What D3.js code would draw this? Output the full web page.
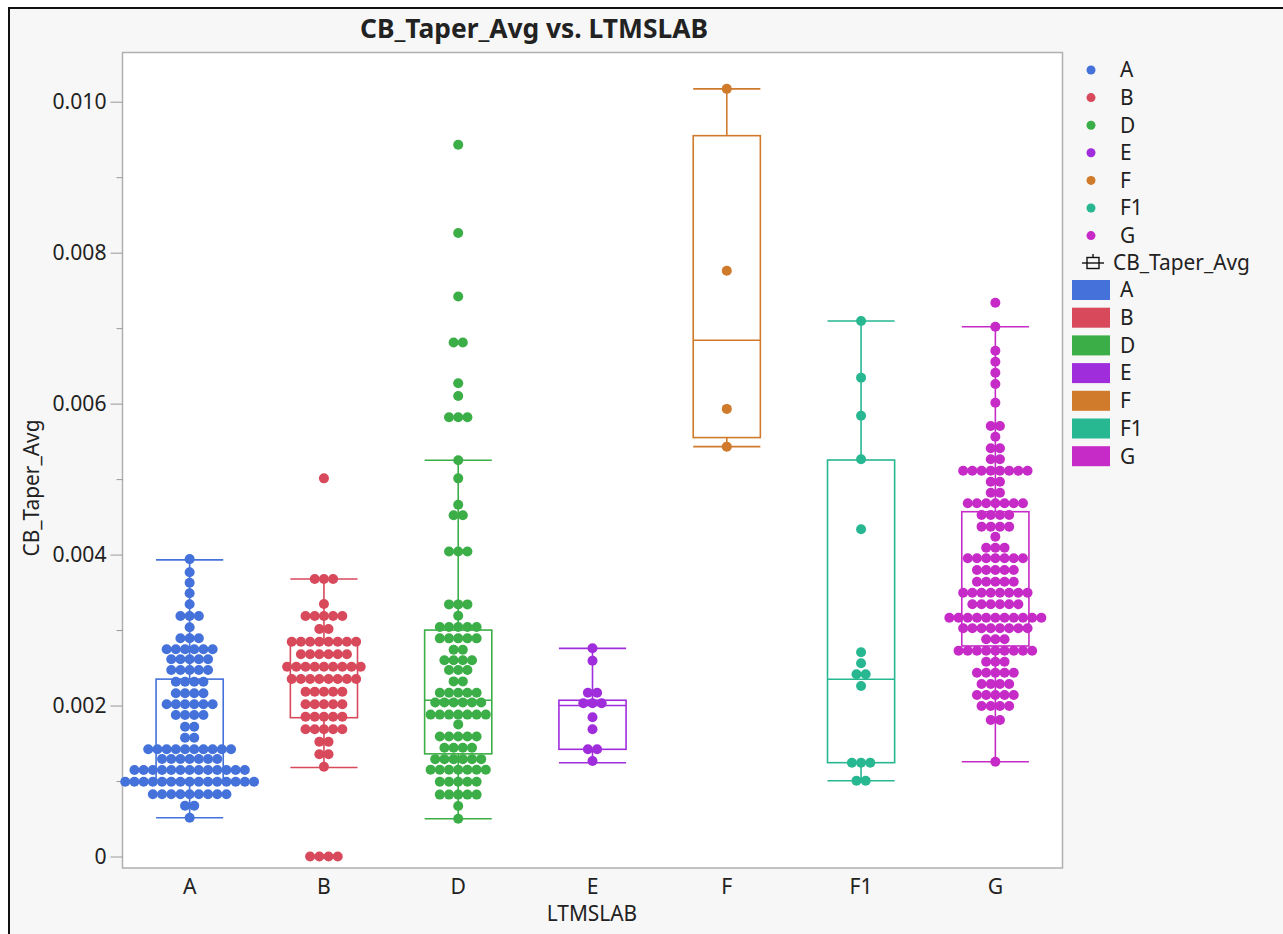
<!DOCTYPE html>
<html><head><meta charset="utf-8">
<script src="https://cdn.jsdelivr.net/npm/d3@7"></script>
<style>
body{margin:0;background:#ffffff;}
svg{display:block;}
text{font-family:"Noto Sans","Open Sans",sans-serif;fill:#222;}
</style>
</head><body>
<svg id="chart" width="1283" height="934"></svg>
<script>
// ---------------- data ----------------
const categories = ["A","B","D","E","F","F1","G"];
const colors = ["#4472DA","#D7495B","#3CAE47","#A02DDC","#D07A2C","#27B791","#C62BC8"];
const title = "CB_Taper_Avg vs. LTMSLAB";
const yTitle = "CB_Taper_Avg";
const xTitle = "LTMSLAB";
const yMajorTicks = [0,0.002,0.004,0.006,0.008,0.010];
const yMinorTicks = [0.001,0.003,0.005,0.007,0.009];

// each row: [value, number of points with that value]
const rowsA = [[0.00394,1],[0.003765,1],[0.003627,1],[0.003487,1],[0.003341,1],[0.003186,3],[0.003037,1],[0.002891,3],[0.002745,6],[0.002613,5],[0.002471,5],[0.002316,4],[0.002162,4],[0.002016,6],[0.001875,4],[0.00172,2],[0.001574,2],[0.00142,10],[0.001292,7],[0.001146,13],[0.000991,15],[0.000824,9],[0.000673,2],[0.000514,1]];
const rowsB = [[0.00501,1],[0.003677,3],[0.003345,1],[0.003186,5],[0.003014,2],[0.002846,8],[0.002679,6],[0.002515,9],[0.002352,8],[0.002183,5],[0.002016,5],[0.001852,5],[0.001685,5],[0.001521,2],[0.001354,2],[0.00119,1],[0,4]];
const rowsD = [[0.00943,1],[0.00826,1],[0.00742,1],[0.00681,2],[0.00627,1],[0.0061,1],[0.00582,3],[0.00525,1],[0.00501,1],[0.00466,1],[0.00452,2],[0.00404,3],[0.00334,3],[0.00319,1],[0.00304,5],[0.00289,5],[0.00274,2],[0.0026,4],[0.00247,3],[0.00232,2],[0.00217,5],[0.00204,6],[0.00188,7],[0.00175,1],[0.00159,5],[0.00144,4],[0.00129,6],[0.00115,7],[0.00099,5],[0.00082,5],[0.00067,1],[0.0005,1]];
const rowsE = [[0.002758,1],[0.002594,1],[0.00217,2],[0.00203,3],[0.001844,1],[0.001685,1],[0.00142,2],[0.001265,1]];
const rowsF = [[0.01017,1],[0.00776,1],[0.00593,1],[0.00543,1]];
const rowsF1 = [[0.007094,1],[0.006344,1],[0.00584,1],[0.005262,1],[0.004335,1],[0.002705,1],[0.00256,1],[0.002414,2],[0.002259,1],[0.001243,3],[0.001004,2]];
const rowsG = [[0.007337,1],[0.007019,1],[0.006701,1],[0.006555,1],[0.00641,1],[0.00626,1],[0.006012,1],[0.005704,2],[0.005562,1],[0.005408,2],[0.005262,2],[0.005111,8],[0.004966,2],[0.00482,2],[0.00468,7],[0.004524,4],[0.00437,4],[0.004237,1],[0.004091,3],[0.003951,7],[0.003796,5],[0.003641,5],[0.003495,8],[0.003341,6],[0.003164,11],[0.003023,8],[0.002878,3],[0.002727,9],[0.002581,3],[0.002435,5],[0.002285,4],[0.00214,5],[0.001994,4],[0.001808,2],[0.001256,1]];

// box-plot statistics per category (same order as categories)
const whiskerLow  = [0.000514,0.00118,0.0005,0.001243,0.00543,0.001004,0.001256];
const q1          = [0.00101,0.001839,0.00136,0.00142,0.00555,0.001243,0.002789];
const median      = [0.00142,0.00251,0.00207,0.0020,0.00684,0.002348,0.00316];
const q3          = [0.00235,0.002833,0.0030,0.00207,0.00955,0.005253,0.004568];
const whiskerHigh = [0.00393,0.003677,0.00525,0.002758,0.01017,0.007094,0.007019];

const allRows = [rowsA,rowsB,rowsD,rowsE,rowsF,rowsF1,rowsG];

// ---------------- layout ----------------
const svg = d3.select("#chart");
const W = 1283, H = 934;
const plot = {left:122.5, right:1062.5, top:52.5, bottom:868};

function fitSize(str, target, weight){
  const t = svg.append("text").attr("font-size",100).attr("font-weight",weight||"normal").text(str);
  const w = t.node().getComputedTextLength(); t.remove();
  return 100*target/w;
}
const fsLabel = fitSize("CB_Taper_Avg", 137);
const fsTick = fitSize("0.010", 54);
const fsTitle = fitSize(title, 348, "bold");

// background + outer frame
svg.append("rect").attr("x",0).attr("y",0).attr("width",W).attr("height",H).attr("fill","#ffffff");
svg.append("rect").attr("x",9).attr("y",8).attr("width",W+20).attr("height",H+20)
  .attr("fill","#f7f7f7").attr("stroke","#111").attr("stroke-width",2);

// plot area
svg.append("rect").attr("x",plot.left).attr("y",plot.top)
  .attr("width",plot.right-plot.left).attr("height",plot.bottom-plot.top)
  .attr("fill","#ffffff").attr("stroke","#b0b0b0").attr("stroke-width",1.5);

const x = d3.scaleBand().domain(categories).range([plot.left, plot.right]);
const y = d3.scaleLinear().domain([0,0.010]).range([856.5,101.7]);
const color = d3.scaleOrdinal().domain(categories).range(colors);

// y axis
const yAxisG = svg.append("g").attr("transform",`translate(${plot.left},0)`)
  .call(d3.axisLeft(y).tickValues(yMajorTicks).tickSize(12).tickPadding(4)
    .tickFormat(d => d===0 ? "0" : d3.format(".3f")(d)));
yAxisG.select(".domain").remove();
yAxisG.selectAll("line").attr("stroke","#999");
yAxisG.selectAll("text").attr("font-size",fsTick).attr("fill","#222")
  .style("font-family",'"Noto Sans","Open Sans",sans-serif');
const yMinorG = svg.append("g").attr("transform",`translate(${plot.left},0)`)
  .call(d3.axisLeft(y).tickValues(yMinorTicks).tickSize(6).tickFormat(""));
yMinorG.select(".domain").remove();
yMinorG.selectAll("line").attr("stroke","#999");

// x axis
const xAxisG = svg.append("g").attr("transform",`translate(0,${plot.bottom})`)
  .call(d3.axisBottom(x).tickSize(0).tickPadding(26 - 0.71*fsTick));
xAxisG.select(".domain").remove();
xAxisG.selectAll("text").attr("font-size",fsTick).attr("fill","#222")
  .style("font-family",'"Noto Sans","Open Sans",sans-serif');

// titles
svg.append("text").attr("x",534).attr("y",38).attr("text-anchor","middle")
  .attr("font-weight","bold").attr("font-size",fsTitle).attr("fill","#111").text(title);
svg.append("text").attr("x",592).attr("y",921).attr("text-anchor","middle")
  .attr("font-size",fsLabel).text(xTitle);
svg.append("text").attr("transform","translate(39,488) rotate(-90)").attr("text-anchor","middle")
  .attr("font-size",fsLabel).text(yTitle);

// box plots
const boxW = x.bandwidth()*0.5;
const boxes = svg.append("g");
categories.forEach((c,i) => {
  const cx = x(c) + x.bandwidth()/2;
  const g = boxes.append("g").attr("stroke",colors[i]).attr("stroke-width",1.6).attr("fill","none");
  g.append("rect").attr("x",cx-boxW/2).attr("y",y(q3[i])).attr("width",boxW).attr("height",y(q1[i])-y(q3[i]));
  g.append("line").attr("x1",cx-boxW/2).attr("x2",cx+boxW/2).attr("y1",y(median[i])).attr("y2",y(median[i]));
  g.append("line").attr("x1",cx).attr("x2",cx).attr("y1",y(q3[i])).attr("y2",y(whiskerHigh[i]));
  g.append("line").attr("x1",cx).attr("x2",cx).attr("y1",y(q1[i])).attr("y2",y(whiskerLow[i]));
  g.append("line").attr("x1",cx-boxW/2).attr("x2",cx+boxW/2).attr("y1",y(whiskerHigh[i])).attr("y2",y(whiskerHigh[i]));
  g.append("line").attr("x1",cx-boxW/2).attr("x2",cx+boxW/2).attr("y1",y(whiskerLow[i])).attr("y2",y(whiskerLow[i]));
});

// beeswarm points (rows centered on the category)
const dx = 9.2;
const points = [];
categories.forEach((c,i) => {
  const cx = x(c) + x.bandwidth()/2;
  allRows[i].forEach(([v,n]) => {
    for(let k=0;k<n;k++) points.push({c, v, px: cx + (k-(n-1)/2)*dx});
  });
});
svg.append("g").selectAll("circle").data(points).join("circle")
  .attr("cx",d=>d.px).attr("cy",d=>y(d.v)).attr("r",5)
  .attr("fill",d=>color(d.c));

// legend
const leg = svg.append("g");
categories.forEach((c,i) => {
  const yy = 70 + i*27.6;
  leg.append("circle").attr("cx",1091).attr("cy",yy).attr("r",4.5).attr("fill",colors[i]);
  leg.append("text").attr("x",1120).attr("y",yy).attr("dy","0.35em").attr("font-size",fsLabel).text(c);
});
const iy = 263;
leg.append("rect").attr("x",1087).attr("y",iy-5.5).attr("width",12).attr("height",11).attr("fill","none").attr("stroke","#111").attr("stroke-width",1.4);
leg.append("line").attr("x1",1082).attr("x2",1104).attr("y1",iy).attr("y2",iy).attr("stroke","#111").attr("stroke-width",1.4);
leg.append("line").attr("x1",1093).attr("x2",1093).attr("y1",iy-9).attr("y2",iy-5.5).attr("stroke","#111").attr("stroke-width",1.4);
leg.append("text").attr("x",1113).attr("y",iy).attr("dy","0.35em").attr("font-size",fsLabel).text(yTitle);
categories.forEach((c,i) => {
  const top = 280 + i*27.7;
  leg.append("rect").attr("x",1072).attr("y",top).attr("width",38).attr("height",20).attr("fill",colors[i]);
  leg.append("text").attr("x",1120).attr("y",top+10).attr("dy","0.35em").attr("font-size",fsLabel).text(c);
});
</script>
</body></html>
